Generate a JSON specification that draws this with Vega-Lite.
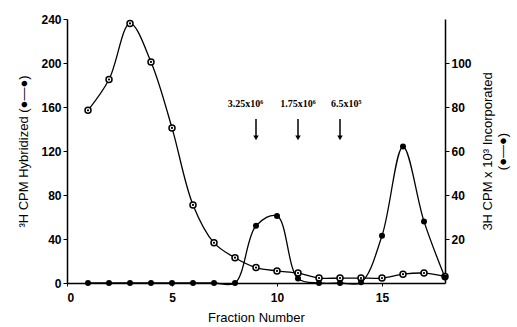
{
  "$schema": "https://vega.github.io/schema/vega-lite/v6.json",
  "width": 378,
  "height": 264,
  "autosize": "none",
  "padding": {"left": 67, "top": 19, "right": 72, "bottom": 44},
  "background": "white",
  "config": {
    "view": {"stroke": null},
    "axis": {
      "labelFont": "Liberation Sans",
      "labelFontWeight": "bold",
      "labelFontSize": 12,
      "labelColor": "black",
      "titleFont": "Liberation Sans",
      "titleFontWeight": "normal",
      "titleFontSize": 13,
      "titleColor": "black",
      "domainColor": "black",
      "domainWidth": 1.5,
      "tickColor": "black",
      "grid": false
    }
  },
  "datasets": {
    "curves": [
      {"f": 1, "a": 157, "b": 0},
      {"f": 2, "a": 185, "b": 0},
      {"f": 3, "a": 236, "b": 0},
      {"f": 4, "a": 201, "b": 0},
      {"f": 5, "a": 141, "b": 0},
      {"f": 6, "a": 71, "b": 0},
      {"f": 7, "a": 36.5, "b": 0},
      {"f": 8, "a": 23, "b": 0},
      {"f": 9, "a": 14, "b": 26},
      {"f": 10, "a": 11, "b": 30.5},
      {"f": 11, "a": 9, "b": 2},
      {"f": 12, "a": 4.5, "b": 0},
      {"f": 13, "a": 4.5, "b": 0},
      {"f": 14, "a": 4.5, "b": 0.3},
      {"f": 15, "a": 4.5, "b": 21.5},
      {"f": 16, "a": 8, "b": 62},
      {"f": 17, "a": 9, "b": 28},
      {"f": 18, "a": 6, "b": 2.5}
    ],
    "marks": [
      {"f": 9, "tx": 8.5, "label": "3.25x10⁶", "ty": 163, "top": 149, "bot": 132},
      {"f": 11, "tx": 11, "label": "1.75x10⁶", "ty": 163, "top": 149, "bot": 132},
      {"f": 13, "tx": 13.3, "label": "6.5x10⁵", "ty": 163, "top": 149, "bot": 132}
    ]
  },
  "layer": [
    {
      "data": {"name": "curves"},
      "layer": [
        {
          "mark": {"type": "line", "interpolate": "catmull-rom", "color": "black", "strokeWidth": 1.3},
          "encoding": {
            "x": {"field": "f", "type": "quantitative", "scale": {"domain": [0, 18], "nice": false},
              "axis": {"values": [0, 5, 10, 15], "title": "Fraction Number", "tickSize": 3, "labelPadding": 6, "titlePadding": 8, "titleColor": "black"}},
            "y": {"field": "a", "type": "quantitative", "scale": {"domain": [0, 240], "nice": false},
              "axis": {"values": [0, 40, 80, 120, 160, 200, 240], "title": "³H CPM Hybridized   (●—●)", "tickSize": 4, "titlePadding": 10, "titleColor": "black"}}
          }
        },
        {
          "mark": {"type": "point", "shape": "circle", "filled": true, "fill": "white", "stroke": "black", "strokeWidth": 1.5, "size": 36, "opacity": 1},
          "encoding": {
            "x": {"field": "f", "type": "quantitative"},
            "y": {"field": "a", "type": "quantitative"}
          }
        },
        {
          "mark": {"type": "point", "shape": "circle", "filled": true, "color": "black", "size": 5, "opacity": 1},
          "encoding": {
            "x": {"field": "f", "type": "quantitative"},
            "y": {"field": "a", "type": "quantitative"}
          }
        },
        {
          "data": {"name": "marks"},
          "mark": {"type": "rule", "color": "black", "strokeWidth": 1.5},
          "encoding": {
            "x": {"field": "f", "type": "quantitative"},
            "y": {"field": "top", "type": "quantitative"},
            "y2": {"field": "bot"}
          }
        },
        {
          "data": {"name": "marks"},
          "mark": {"type": "point", "shape": "triangle-down", "filled": true, "color": "black", "size": 30, "opacity": 1},
          "encoding": {
            "x": {"field": "f", "type": "quantitative"},
            "y": {"field": "bot", "type": "quantitative"}
          }
        },
        {
          "data": {"name": "marks"},
          "mark": {"type": "text", "font": "Liberation Serif", "fontWeight": "bold", "fontSize": 10, "color": "black"},
          "encoding": {
            "x": {"field": "tx", "type": "quantitative"},
            "y": {"field": "ty", "type": "quantitative"},
            "text": {"field": "label"}
          }
        }
      ]
    },
    {
      "data": {"name": "curves"},
      "layer": [
        {
          "mark": {"type": "line", "interpolate": "catmull-rom", "color": "black", "strokeWidth": 1.3},
          "encoding": {
            "x": {"field": "f", "type": "quantitative"},
            "y": {"field": "b", "type": "quantitative", "scale": {"domain": [0, 120], "nice": false},
              "axis": {"orient": "right", "values": [20, 40, 60, 80, 100], "title": ["3H CPM x 10³ Incorporated", "(●—●)"], "titleAngle": -90, "tickSize": 4, "titlePadding": 8, "titleColor": "black"}}
          }
        },
        {
          "mark": {"type": "point", "shape": "circle", "filled": true, "color": "black", "size": 36, "opacity": 1},
          "encoding": {
            "x": {"field": "f", "type": "quantitative"},
            "y": {"field": "b", "type": "quantitative"}
          }
        }
      ]
    }
  ],
  "resolve": {"scale": {"y": "independent"}}
}
